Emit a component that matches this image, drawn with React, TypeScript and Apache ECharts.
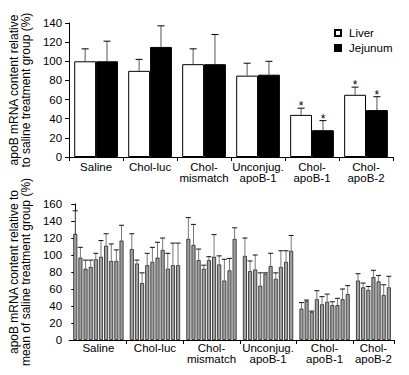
import React, { useEffect, useRef } from 'react';
import * as echarts from 'echarts';

// ---------- Top panel data ----------
const topCategories = ['Saline', 'Chol-luc', 'Chol-\nmismatch', 'Unconjug.\napoB-1', 'Chol-\napoB-1', 'Chol-\napoB-2'];
const liverMean = [100, 90, 97, 85, 44, 65];
const liverUpper = [113, 102, 113, 98, 51, 73];
const liverSig = [false, false, false, false, true, true];
const jejunumMean = [100, 115, 97, 86, 28, 49];
const jejunumUpper = [121, 137, 128, 100, 38, 63];
const jejunumSig = [false, false, false, false, true, true];
const topTicks = [0, 20, 40, 60, 80, 100, 120, 140];

// ---------- Bottom panel data (individual animals) ----------
const bottomLabels = ['Saline', 'Chol-luc', 'Chol-\nmismatch', 'Unconjug.\napoB-1', 'Chol-\napoB-1', 'Chol-\napoB-2'];
const salineVals = [125, 97, 84, 86, 95, 98, 111, 93, 93, 117];
const salineUpper = [152, 109, 94, 94, 102, 117, 125, 113, 106, 135];
const cholLucVals = [107, 90, 67, 88, 92, 97, 106, 84, 88, 88];
const cholLucUpper = [125, 94, 79, 102, 109, 115, 120, 102, 114, 114];
const mismatchVals = [119, 112, 94, 84, 94, 98, 89, 70, 82, 119];
const mismatchUpper = [144, 136, 107, 88, 98, 124, 99, 95, 96, 132];
const unconjVals = [99, 81, 83, 64, 78, 87, 72, 86, 92, 105];
const unconjUpper = [120, 93, 100, 79, 79, 102, 79, 105, 105, 123];
const apoB1Vals = [37, 46, 33, 48, 42, 45, 41, 41, 48, 54];
const apoB1Upper = [44, 47, 34, 58, 51, 54, 45, 49, 60, 64];
const apoB2Vals = [70, 62, 59, 74, 69, 53, 62];
const apoB2Upper = [78, 67, 63, 82, 76, 65, 75];
const bottomTicks = [0, 20, 40, 60, 80, 100, 120, 140, 160];

const FONT = 'Liberation Sans, Arial, Helvetica, sans-serif';

export default function App() {
  const ref = useRef<HTMLDivElement>(null);

  useEffect(() => {
    if (!ref.current) return;
    const chart = echarts.init(ref.current, undefined, { renderer: 'svg' });

    const groupsVals = [salineVals, cholLucVals, mismatchVals, unconjVals, apoB1Vals, apoB2Vals];
    const groupsUpper = [salineUpper, cholLucUpper, mismatchUpper, unconjUpper, apoB1Upper, apoB2Upper];
    const points: number[][] = [];
    const tickSlots: number[] = [];
    const labelSlots: number[] = [];
    let s = 0;
    groupsVals.forEach((g, gi) => {
      g.forEach((v, i) => points.push([s + i, v, groupsUpper[gi][i]]));
      labelSlots.push(s + (g.length - 1) / 2);
      s += g.length;
      tickSlots.push(s);
      s += 1;
    });
    const xMax = tickSlots[tickSlots.length - 1];

    const topErr: any[] = [];
    topCategories.forEach((_, i) => {
      topErr.push([i, liverMean[i], liverUpper[i], liverSig[i] ? 1 : 0, 0]);
      topErr.push([i, jejunumMean[i], jejunumUpper[i], jejunumSig[i] ? 1 : 0, 1]);
    });

    const axisLineStyle = { color: '#000', width: 1 };
    const labelStyle = { color: '#000', fontSize: 11.5, fontFamily: FONT };
    const nameStyle = { color: '#000', fontSize: 12, fontFamily: FONT, lineHeight: 12 };

    const option: any = {
      animation: false,
      backgroundColor: '#fff',
      textStyle: { fontFamily: FONT },
      legend: {
        data: ['Liver', 'Jejunum'],
        orient: 'vertical',
        left: 329,
        top: 22,
        icon: 'rect',
        itemWidth: 6,
        itemHeight: 6,
        itemGap: 3,
        textStyle: { color: '#000', fontSize: 11.5, fontFamily: FONT, padding: [0, 0, 0, 3] },
      },
      grid: [
        { left: 65, top: 23, right: 16, height: 134, containLabel: false },
        { left: 63, top: 204, right: 15, height: 136, containLabel: false },
      ],
      xAxis: [
        {
          type: 'category',
          gridIndex: 0,
          data: topCategories,
          axisLine: { lineStyle: axisLineStyle },
          axisTick: { show: true, length: 4, lineStyle: axisLineStyle },
          axisLabel: { ...labelStyle, interval: 0, margin: 4, lineHeight: 11 },
        },
        {
          type: 'value',
          gridIndex: 1,
          min: -1.2,
          max: xMax,
          splitLine: { show: false },
          axisLine: { show: true, onZero: false, lineStyle: axisLineStyle },
          axisTick: { show: true, length: 4, lineStyle: axisLineStyle, customValues: tickSlots },
          axisLabel: {
            ...labelStyle,
            margin: 2,
            lineHeight: 11.5,
            customValues: labelSlots,
            formatter: (v: number) => {
              const idx = labelSlots.findIndex((x) => Math.abs(x - v) < 0.01);
              return idx >= 0 ? bottomLabels[idx] : '';
            },
          },
        },
      ],
      yAxis: [
        {
          type: 'value',
          gridIndex: 0,
          min: topTicks[0],
          max: topTicks[topTicks.length - 1],
          interval: 20,
          splitLine: { show: false },
          axisLine: { show: true, lineStyle: axisLineStyle },
          axisTick: { show: true, length: 4, lineStyle: axisLineStyle },
          axisLabel: { ...labelStyle, margin: 7 },
          name: 'apoB mRNA content relative\nto saline treatment group (%)',
          nameLocation: 'middle',
          nameGap: 30,
          nameTextStyle: nameStyle,
        },
        {
          type: 'value',
          gridIndex: 1,
          min: bottomTicks[0],
          max: bottomTicks[bottomTicks.length - 1],
          interval: 20,
          splitLine: { show: false },
          axisLine: { show: true, lineStyle: axisLineStyle },
          axisTick: { show: true, length: 4, lineStyle: axisLineStyle },
          axisLabel: { ...labelStyle, margin: 7 },
          name: 'apoB mRNA content relative to\nmean of saline treatment group (%)',
          nameLocation: 'middle',
          nameGap: 31,
          nameTextStyle: nameStyle,
        },
      ],
      series: [
        {
          name: 'Liver',
          type: 'bar',
          xAxisIndex: 0,
          yAxisIndex: 0,
          data: liverMean,
          barGap: '0%',
          barCategoryGap: '19%',
          itemStyle: { color: '#fff', borderColor: '#000', borderWidth: 1 },
        },
        {
          name: 'Jejunum',
          type: 'bar',
          xAxisIndex: 0,
          yAxisIndex: 0,
          data: jejunumMean,
          barGap: '0%',
          barCategoryGap: '19%',
          itemStyle: { color: '#000', borderColor: '#000', borderWidth: 1 },
        },
        {
          type: 'custom',
          xAxisIndex: 0,
          yAxisIndex: 0,
          data: topErr,
          encode: { x: 0, y: 2 },
          z: 3,
          renderItem: (params: any, api: any) => {
            const cat = api.value(0);
            const mean = api.value(1);
            const upper = api.value(2);
            const sig = api.value(3);
            const which = api.value(4);
            const band = api.size([1, 0])[0];
            const bw = (band * (1 - 0.19)) / 2;
            const off = which === 0 ? -bw / 2 : bw / 2;
            const p0 = api.coord([cat, mean]);
            const p1 = api.coord([cat, upper]);
            const x = p0[0] + off;
            const children: any[] = [
              { type: 'line', shape: { x1: x, y1: p0[1], x2: x, y2: p1[1] }, style: { stroke: '#555', lineWidth: 1 } },
              { type: 'line', shape: { x1: x - 3.5, y1: p1[1], x2: x + 3.5, y2: p1[1] }, style: { stroke: '#000', lineWidth: 1 } },
            ];
            if (sig) {
              children.push({
                type: 'text',
                x: x,
                y: p1[1] - 2,
                style: { text: '*', fill: '#000', font: `12px ${FONT}`, align: 'center', verticalAlign: 'middle' },
              });
            }
            return { type: 'group', children };
          },
        },
        {
          type: 'bar',
          xAxisIndex: 1,
          yAxisIndex: 1,
          data: points.map((p) => [p[0], p[1]]),
          barWidth: 4,
          itemStyle: { color: '#a0a0a0', borderColor: '#222', borderWidth: 0.8 },
        },
        {
          type: 'custom',
          xAxisIndex: 1,
          yAxisIndex: 1,
          data: points,
          encode: { x: 0, y: 2 },
          z: 3,
          renderItem: (params: any, api: any) => {
            const p0 = api.coord([api.value(0), api.value(1)]);
            const p1 = api.coord([api.value(0), api.value(2)]);
            return {
              type: 'group',
              children: [
                { type: 'line', shape: { x1: p0[0], y1: p0[1], x2: p1[0], y2: p1[1] }, style: { stroke: '#777', lineWidth: 1 } },
                { type: 'line', shape: { x1: p1[0] - 2.5, y1: p1[1], x2: p1[0] + 2.5, y2: p1[1] }, style: { stroke: '#111', lineWidth: 1 } },
              ],
            };
          },
        },
      ],
    };

    chart.setOption(option);
    return () => chart.dispose();
  }, []);

  return <div ref={ref} style={{ position: 'absolute', left: 0, top: 0, width: 409, height: 375 }} />;
}
